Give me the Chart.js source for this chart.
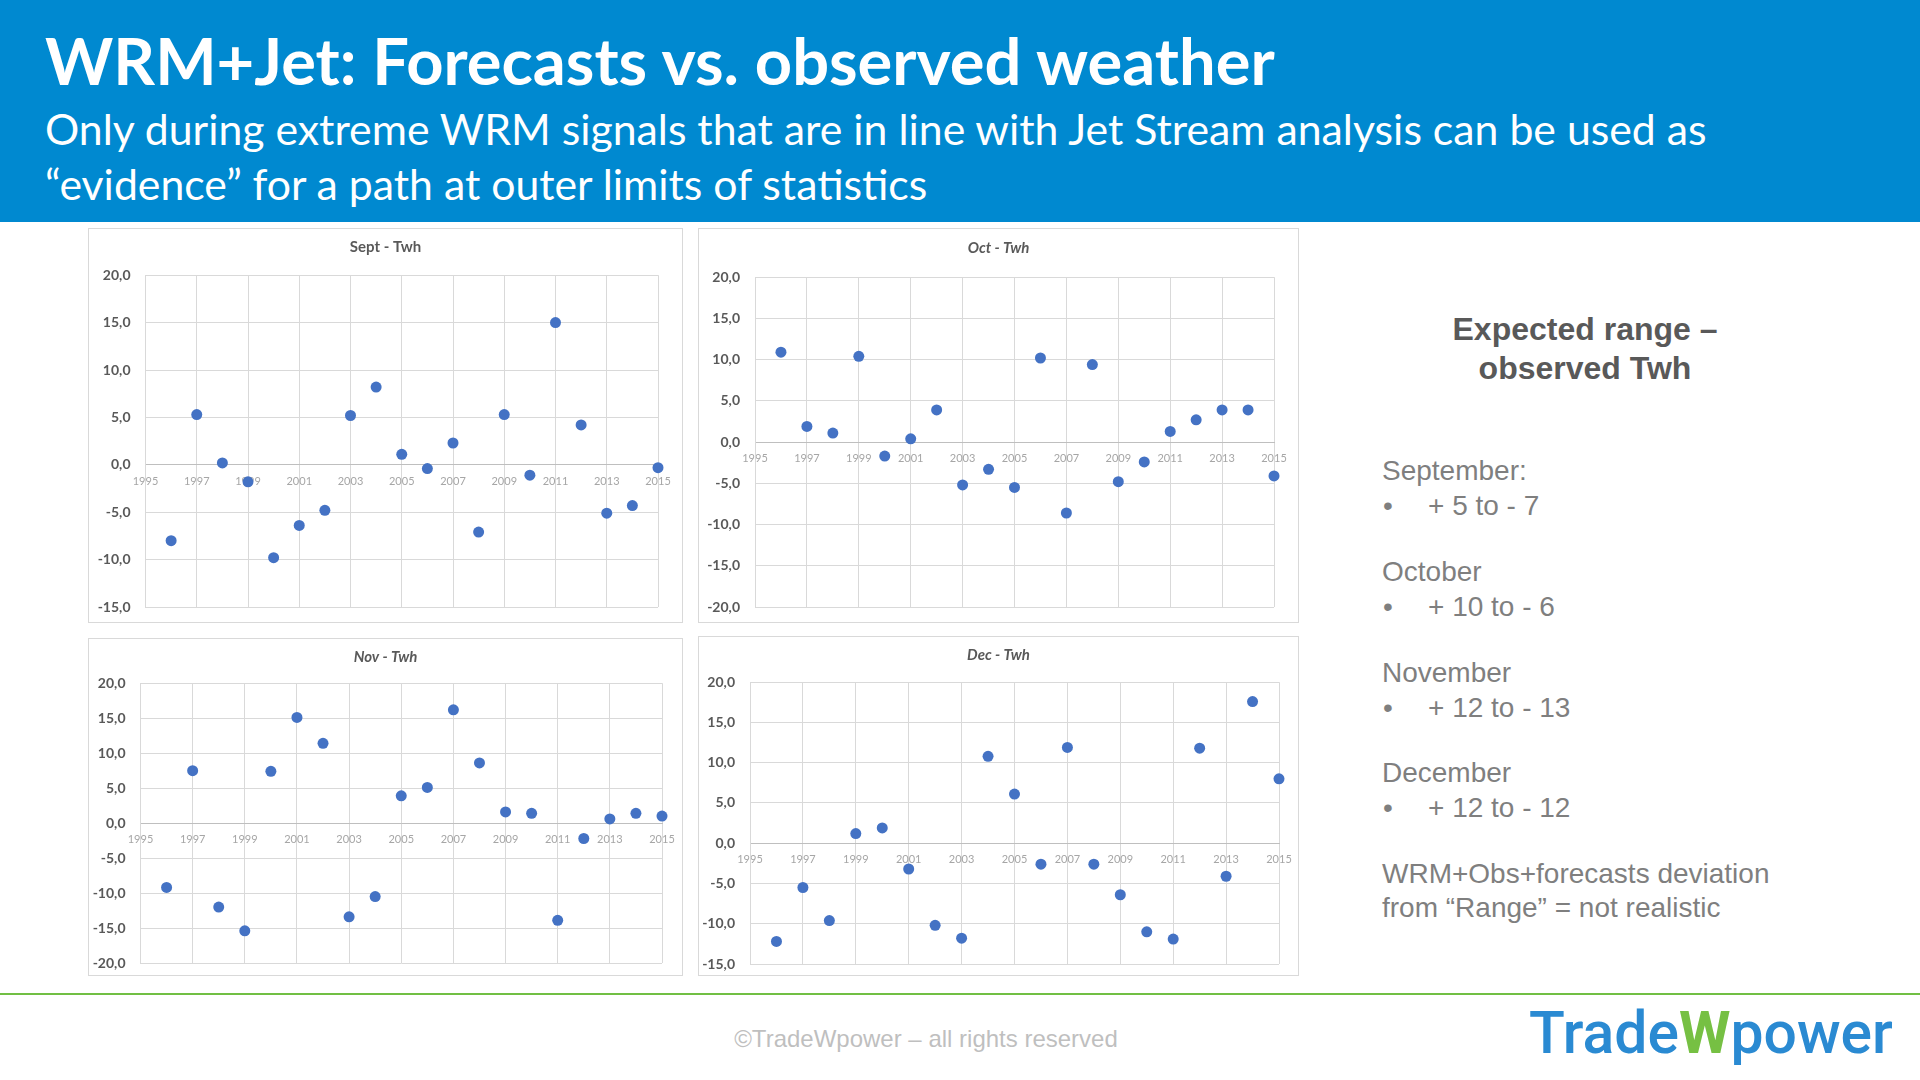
<!DOCTYPE html>
<html>
<head>
<meta charset="utf-8">
<script src="https://cdn.jsdelivr.net/npm/chart.js@4.4.1/dist/chart.umd.min.js"></script>
<style>
html, body { margin: 0; padding: 0; }
body { width: 1920px; height: 1080px; position: relative; overflow: hidden; background: #fff; font-family: Lato, sans-serif; }
.band { position: absolute; left: 0; top: 0; width: 1920px; height: 222px; background: #0089D0; }
.t { position: absolute; white-space: nowrap; line-height: 1; }
.panel { position: absolute; border: 1px solid #d9d9d9; box-sizing: border-box; background: #fff; }
.panel canvas { position: absolute; left: 0; top: 0; }
.side { font-family: "Liberation Sans", Arial, sans-serif; color: #7f7f7f; font-size: 28px; }
.footline { position: absolute; left: 0; top: 993px; width: 1920px; height: 2px; background: #71BF44; }
</style>
</head>
<body>
<div class="band"></div>
<div class="t" id="title" style="color:#fff;font-weight:700;font-size:64px;">WRM+Jet: Forecasts vs. observed weather</div>
<div class="t" id="sub1" style="color:#fff;font-size:40px;">Only during extreme WRM signals that are in line with Jet Stream analysis can be used as</div>
<div class="t" id="sub2" style="color:#fff;font-size:40px;">“evidence” for a path at outer limits of statistics</div>

<div class="panel" style="left:88px;top:228px;width:595px;height:395px;"><canvas id="cSep" width="593" height="393"></canvas></div>
<div class="panel" style="left:698px;top:228px;width:601px;height:395px;"><canvas id="cOct" width="599" height="393"></canvas></div>
<div class="panel" style="left:88px;top:638px;width:595px;height:338px;"><canvas id="cNov" width="593" height="336"></canvas></div>
<div class="panel" style="left:698px;top:636px;width:601px;height:340px;"><canvas id="cDec" width="599" height="338"></canvas></div>

<div class="t side" id="h1" style="font-weight:700;color:#595959;font-size:32px;">Expected range –</div>
<div class="t side" id="h2" style="font-weight:700;color:#595959;font-size:32px;">observed Twh</div>
<div class="t side" id="m1">September:</div>
<div class="t side" id="b1">•</div><div class="t side" id="r1">+ 5 to - 7</div>
<div class="t side" id="m2">October</div>
<div class="t side" id="b2">•</div><div class="t side" id="r2">+ 10 to - 6</div>
<div class="t side" id="m3">November</div>
<div class="t side" id="b3">•</div><div class="t side" id="r3">+ 12 to - 13</div>
<div class="t side" id="m4">December</div>
<div class="t side" id="b4">•</div><div class="t side" id="r4">+ 12 to - 12</div>
<div class="t side" id="n1">WRM+Obs+forecasts deviation</div>
<div class="t side" id="n2">from “Range” = not realistic</div>

<div class="footline"></div>
<div class="t" id="copy" style="font-family:'Liberation Sans',Arial,sans-serif;font-size:24px;color:#bfbfbf;">©TradeWpower – all rights reserved</div>
<div class="t" id="logo" style="font-family:Roboto,sans-serif;font-weight:500;font-size:56px;"><span style="color:#2A8AD2">Trade</span><span style="color:#76C043;font-weight:700">W</span><span style="color:#2A8AD2">power</span></div>

<script>
// observed deviation, Twh, per year
var years = [1996, 1997, 1998, 1999, 2000, 2001, 2002, 2003, 2004, 2005, 2006, 2007, 2008, 2009, 2010, 2011, 2012, 2013, 2014, 2015];
var septTwh = [-8.0, 5.3, 0.2, -1.8, -9.8, -6.4, -4.8, 5.2, 8.2, 1.1, -0.4, 2.3, -7.1, 5.3, -1.1, 15.0, 4.2, -5.1, -4.3, -0.3];
var octTwh = [10.9, 1.9, 1.1, 10.4, -1.7, 0.4, 3.9, -5.2, -3.3, -5.5, 10.2, -8.6, 9.4, -4.8, -2.4, 1.3, 2.7, 3.9, 3.9, -4.1];
var novTwh = [-9.2, 7.5, -12.0, -15.4, 7.4, 15.1, 11.4, -13.4, -10.5, 3.9, 5.1, 16.2, 8.6, 1.6, 1.4, -13.9, -2.2, 0.6, 1.4, 1.0];
var decTwh = [-12.2, -5.5, -9.6, 1.2, 1.9, -3.2, -10.2, -11.8, 10.8, 6.1, -2.6, 11.9, -2.6, -6.4, -11.0, -11.9, 11.8, -4.1, 17.6, 8.0];

var yearTicks = [1995, 1997, 1999, 2001, 2003, 2005, 2007, 2009, 2011, 2013, 2015];
var ticks15to20 = [-15, -10, -5, 0, 5, 10, 15, 20];
var ticks20to20 = [-20, -15, -10, -5, 0, 5, 10, 15, 20];

function place(id, x, base, align, w) {
  var el = document.getElementById(id);
  if (w) {
    var fs = parseFloat(getComputedStyle(el).fontSize);
    el.style.fontSize = (fs * w / el.getBoundingClientRect().width) + 'px';
  }
  var mark = document.createElement('span');
  mark.style.cssText = 'display:inline-block;width:0;height:0;vertical-align:baseline';
  el.appendChild(mark);
  var r = el.getBoundingClientRect();
  var off = mark.getBoundingClientRect().bottom - r.top;
  el.style.top = (base - off) + 'px';
  el.style.left = (align === 'center' ? x - r.width / 2 : x) + 'px';
}

place('title', 45, 85, 'left', 1230);
place('sub1', 45, 145, 'left', 1662);
document.getElementById('sub2').style.fontSize = document.getElementById('sub1').style.fontSize;
place('sub2', 45, 200, 'left');

place('h1', 1585, 340, 'center');
place('h2', 1585, 379, 'center');
var rows = [['m1', 'b1', 'r1', 480], ['m2', 'b2', 'r2', 581], ['m3', 'b3', 'r3', 682], ['m4', 'b4', 'r4', 782]];
rows.forEach(function (r) {
  place(r[0], 1382, r[3], 'left');
  place(r[1], 1383, r[3] + 35, 'left');
  place(r[2], 1428, r[3] + 35, 'left');
});
place('n1', 1382, 883, 'left');
place('n2', 1382, 917, 'left');
place('copy', 926, 1047, 'center');
place('logo', 1529, 1053, 'left', 364);

function makeChart(id, title, italic, values, yTicks, pad) {
  new Chart(document.getElementById(id), {
    type: 'scatter',
    data: {
      datasets: [{
        data: years.map(function (y, i) { return { x: y, y: values[i] }; }),
        backgroundColor: '#4472C4',
        borderWidth: 0,
        pointRadius: 5.5,
        pointHoverRadius: 5.5,
        clip: false
      }]
    },
    options: {
      responsive: false,
      animation: false,
      events: [],
      layout: { padding: { left: 0, right: 0, top: pad.t, bottom: pad.b } },
      plugins: {
        legend: { display: false },
        tooltip: { enabled: false },
        title: {
          display: true,
          text: title,
          color: '#595959',
          font: { family: 'Lato', size: 15, weight: 'bold', style: italic ? 'italic' : 'normal', lineHeight: 1.2 },
          padding: { top: 0, bottom: pad.tb }
        }
      },
      scales: {
        x: {
          type: 'linear',
          position: { y: 0 },
          min: yearTicks[0],
          max: yearTicks[yearTicks.length - 1],
          afterBuildTicks: function (s) { s.ticks = yearTicks.map(function (v) { return { value: v }; }); },
          afterFit: function (s) { s.height = 0; },
          // invisible tick marks give the label gap without adding layout padding
          grid: { color: '#d9d9d9', drawTicks: true, tickLength: 10, tickColor: 'rgba(0,0,0,0)' },
          border: { color: '#bfbfbf', width: 1 },
          ticks: {
            padding: 0, color: '#a6a6a6', maxRotation: 0, autoSkip: false,
            font: { family: 'Lato', size: 11 },
            callback: function (v) { return String(v); }
          }
        },
        y: {
          min: yTicks[0],
          max: yTicks[yTicks.length - 1],
          afterBuildTicks: function (s) { s.ticks = yTicks.map(function (v) { return { value: v }; }); },
          afterFit: function (s) { s.width = pad.l; },
          grid: { color: '#d9d9d9', drawTicks: true, tickLength: 15, tickColor: 'rgba(0,0,0,0)' },
          border: { color: '#d9d9d9' },
          ticks: {
            padding: 0, color: '#595959',
            font: { family: 'Lato', size: 14, weight: 'bold' },
            callback: function (v) { return v.toFixed(1).replace('.', ','); }
          }
        },
        yRight: {
          position: 'right',
          afterFit: function (s) { s.width = pad.r; },
          grid: { display: false },
          border: { display: false },
          ticks: { display: false }
        }
      }
    }
  });
}

makeChart('cSep', 'Sept - Twh', false, septTwh, ticks15to20, { l: 56.5, r: 24, t: 9.6, b: 15, tb: 18.6 });
makeChart('cOct', 'Oct - Twh', true, octTwh, ticks20to20, { l: 56, r: 24, t: 10.6, b: 15, tb: 19.6 });
makeChart('cNov', 'Nov - Twh', true, novTwh, ticks20to20, { l: 51.5, r: 20, t: 9.6, b: 12, tb: 16.6 });
makeChart('cDec', 'Dec - Twh', true, decTwh, ticks15to20, { l: 51, r: 19, t: 9.6, b: 11, tb: 17.6 });
</script>
</body>
</html>
